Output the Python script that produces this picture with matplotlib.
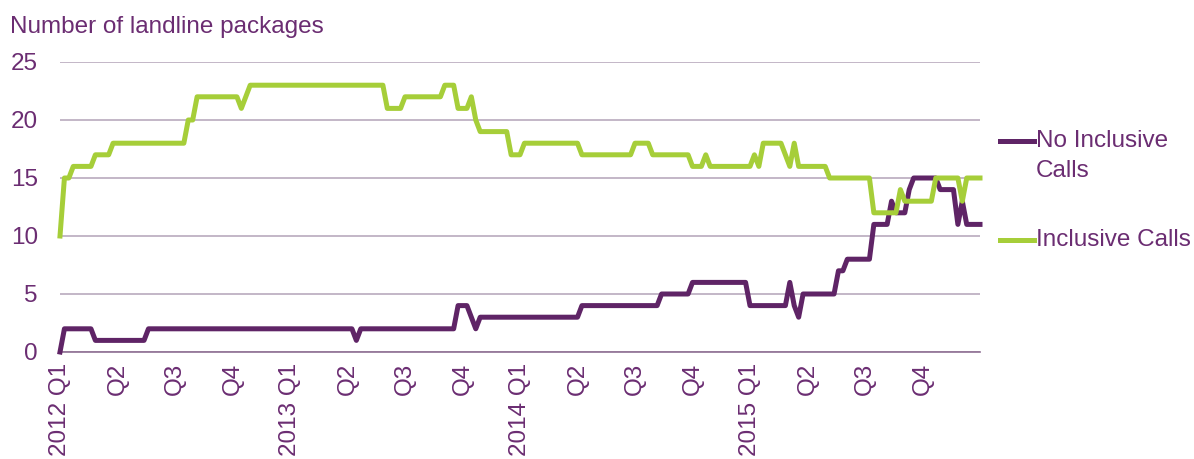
import matplotlib
matplotlib.use("Agg")
import matplotlib.pyplot as plt
from matplotlib.lines import Line2D

plt.rcParams['font.family'] = ['Liberation Sans', 'DejaVu Sans']

# Weekly observations, 2012 Q1 .. 2015 Q4 (13 weeks per quarter, one row per quarter)
inclusive_calls = [
    10, 15, 15, 16, 16, 16, 16, 16, 17, 17, 17, 17, 18,
    18, 18, 18, 18, 18, 18, 18, 18, 18, 18, 18, 18, 18,
    18, 18, 18, 20, 20, 22, 22, 22, 22, 22, 22, 22, 22,
    22, 22, 21, 22, 23, 23, 23, 23, 23, 23, 23, 23, 23,
    23, 23, 23, 23, 23, 23, 23, 23, 23, 23, 23, 23, 23,
    23, 23, 23, 23, 23, 23, 23, 23, 23, 21, 21, 21, 21,
    22, 22, 22, 22, 22, 22, 22, 22, 22, 23, 23, 23, 21,
    21, 21, 22, 20, 19, 19, 19, 19, 19, 19, 19, 17, 17,
    17, 18, 18, 18, 18, 18, 18, 18, 18, 18, 18, 18, 18,
    18, 17, 17, 17, 17, 17, 17, 17, 17, 17, 17, 17, 17,
    18, 18, 18, 18, 17, 17, 17, 17, 17, 17, 17, 17, 17,
    16, 16, 16, 17, 16, 16, 16, 16, 16, 16, 16, 16, 16,
    16, 17, 16, 18, 18, 18, 18, 18, 17, 16, 18, 16, 16,
    16, 16, 16, 16, 16, 15, 15, 15, 15, 15, 15, 15, 15,
    15, 15, 12, 12, 12, 12, 12, 12, 14, 13, 13, 13, 13,
    13, 13, 13, 15, 15, 15, 15, 15, 15, 13, 15, 15, 15,
    15,
]
no_inclusive_calls = [
    0, 2, 2, 2, 2, 2, 2, 2, 1, 1, 1, 1, 1,
    1, 1, 1, 1, 1, 1, 1, 2, 2, 2, 2, 2, 2,
    2, 2, 2, 2, 2, 2, 2, 2, 2, 2, 2, 2, 2,
    2, 2, 2, 2, 2, 2, 2, 2, 2, 2, 2, 2, 2,
    2, 2, 2, 2, 2, 2, 2, 2, 2, 2, 2, 2, 2,
    2, 2, 1, 2, 2, 2, 2, 2, 2, 2, 2, 2, 2,
    2, 2, 2, 2, 2, 2, 2, 2, 2, 2, 2, 2, 4,
    4, 4, 3, 2, 3, 3, 3, 3, 3, 3, 3, 3, 3,
    3, 3, 3, 3, 3, 3, 3, 3, 3, 3, 3, 3, 3,
    3, 4, 4, 4, 4, 4, 4, 4, 4, 4, 4, 4, 4,
    4, 4, 4, 4, 4, 4, 5, 5, 5, 5, 5, 5, 5,
    6, 6, 6, 6, 6, 6, 6, 6, 6, 6, 6, 6, 6,
    4, 4, 4, 4, 4, 4, 4, 4, 4, 6, 4, 3, 5,
    5, 5, 5, 5, 5, 5, 5, 7, 7, 8, 8, 8, 8,
    8, 8, 11, 11, 11, 11, 13, 12, 12, 12, 14, 15, 15,
    15, 15, 15, 15, 14, 14, 14, 14, 11, 13, 11, 11, 11,
    11,
]
quarter_labels = ["2012 Q1", "Q2", "Q3", "Q4",
                  "2013 Q1", "Q2", "Q3", "Q4",
                  "2014 Q1", "Q2", "Q3", "Q4",
                  "2015 Q1", "Q2", "Q3", "Q4"]
weeks_per_quarter = 13
series_names = ["No Inclusive\nCalls", "Inclusive Calls"]
y_ticks = [0, 5, 10, 15, 20, 25]

TEXT = "#6B2D72"
PURPLE = "#5F2466"
GREEN = "#A6CE39"
GRID = "#B9AABD"

W, H = 1194, 459
fig = plt.figure(figsize=(W / 100, H / 100), dpi=100)
ax = fig.add_axes([60 / W, 1 - 352 / H, 920 / W, 290 / H])

weeks = list(range(len(inclusive_calls)))
ax.plot(weeks, no_inclusive_calls, color=PURPLE, lw=3.6, clip_on=False,
        solid_joinstyle='round', zorder=3)
ax.plot(weeks, inclusive_calls, color=GREEN, lw=3.6, clip_on=False,
        solid_joinstyle='round', zorder=3)

ax.set_xlim(0, len(inclusive_calls) - 1)
ax.set_ylim(0, 25)
ax.set_yticks(y_ticks)
ax.set_yticklabels([str(v) for v in y_ticks])
ax.set_xticks([i * weeks_per_quarter for i in range(len(quarter_labels))])
ax.set_xticklabels(quarter_labels, rotation=90, va='top', ha='center')

ax.grid(axis='y', color=GRID, lw=1.2, zorder=0)
ax.set_axisbelow(True)
for s in ['left', 'right', 'top']:
    ax.spines[s].set_visible(False)
ax.spines['bottom'].set_color("#8E6F93")
ax.spines['bottom'].set_linewidth(1.2)
ax.tick_params(axis='y', length=0, pad=16, labelsize=17.5, labelcolor=TEXT)
ax.tick_params(axis='x', length=0, pad=8, labelsize=17.5, labelcolor=TEXT)

fig.text(10 / W, 1 - 27 / H, "Number of landline packages", fontsize=17.5,
         color=TEXT, ha='left', va='center')

# Legend (drawn to the right of the plot)
legend_rows = [(141, PURPLE, series_names[0]), (240, GREEN, series_names[1])]
for y_px, col, name in legend_rows:
    yf = 1 - y_px / H
    fig.add_artist(Line2D([1000 / W, 1034 / W], [yf, yf], color=col, lw=3.6,
                          transform=fig.transFigure))
    lines = name.split("\n")
    for k, t in enumerate(lines):
        fig.text(1036 / W, 1 - (y_px + 30 * k) / H, t, fontsize=17.5,
                 color=TEXT, ha='left', va='center')

fig.savefig("out.png", dpi=100)
